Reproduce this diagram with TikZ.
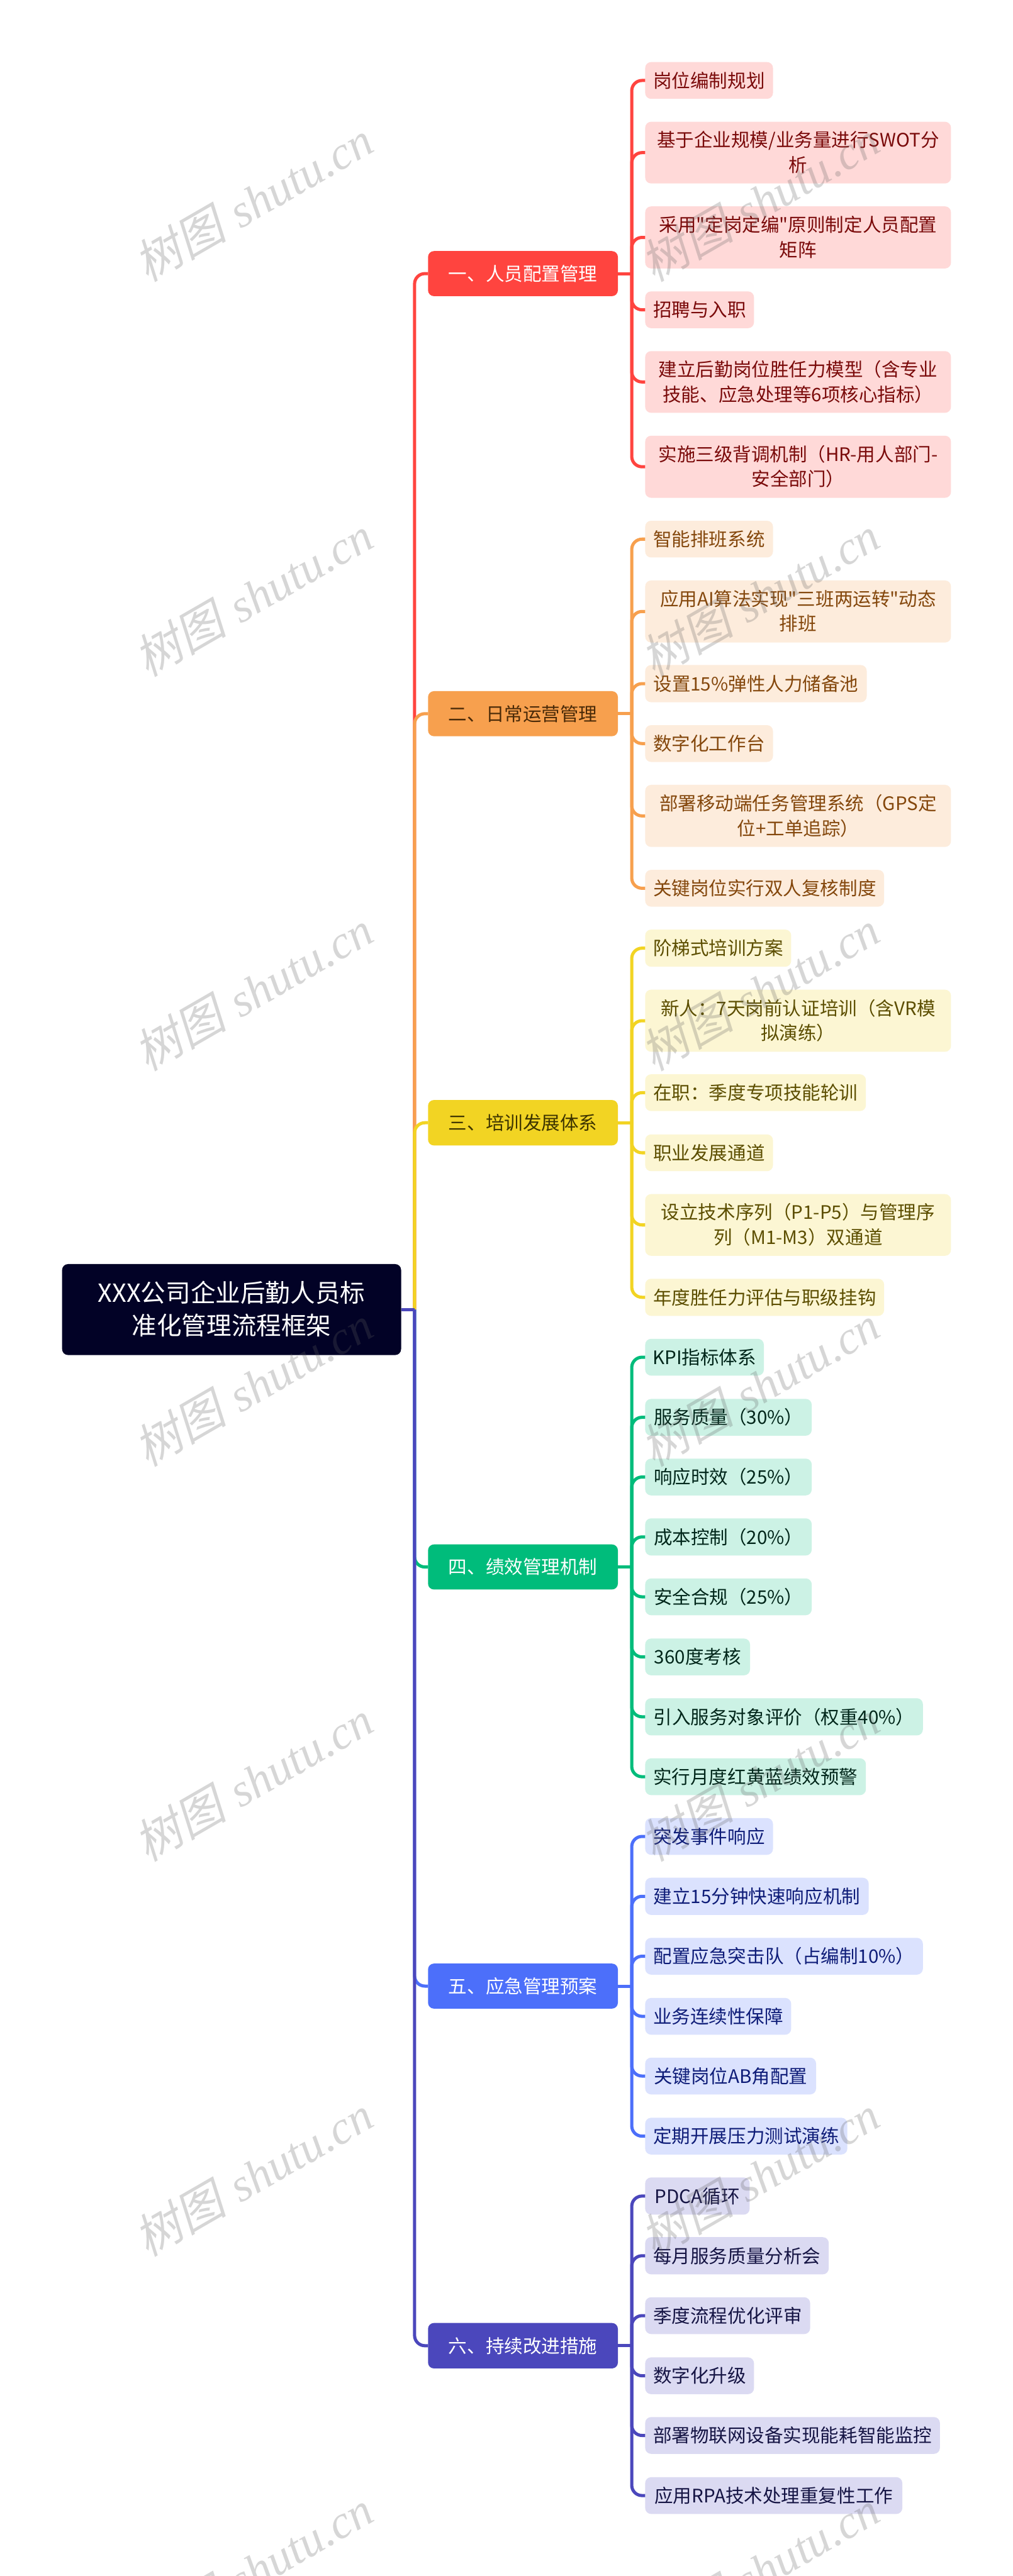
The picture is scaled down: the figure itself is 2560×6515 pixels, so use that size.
\documentclass[tikz,border=0pt]{standalone}
\usepackage{fontspec}
\newfontfamily\cjkmain{Noto Sans CJK SC}
\newfontfamily\wmcjk[FakeSlant=0.22]{Noto Sans CJK SC}
\newfontfamily\wmlat{Liberation Serif}[ItalicFont=* Italic]
\usetikzlibrary{calc}
\definecolor{rootc}{HTML}{020226}
\definecolor{redM}{HTML}{FF443F}\definecolor{redL}{HTML}{FFD9D8}\definecolor{redT}{HTML}{7A0A0A}
\definecolor{orgM}{HTML}{F7A04E}\definecolor{orgL}{HTML}{FDECDC}\definecolor{orgT}{HTML}{84470C}\definecolor{orgH}{HTML}{4A2A08}
\definecolor{yelM}{HTML}{F2D423}\definecolor{yelL}{HTML}{FCF6D3}\definecolor{yelT}{HTML}{5C4E00}\definecolor{yelH}{HTML}{3D3400}
\definecolor{grnM}{HTML}{00BC7B}\definecolor{grnL}{HTML}{CCF2E5}\definecolor{grnT}{HTML}{00261A}
\definecolor{bluM}{HTML}{4C6FFA}\definecolor{bluL}{HTML}{DBE2FE}\definecolor{bluT}{HTML}{0E1C78}
\definecolor{indM}{HTML}{4B47BC}\definecolor{indL}{HTML}{DBDAF2}\definecolor{indT}{HTML}{151444}
\newcommand{\lstrut}{\vrule width 0pt height 0.88em depth 0.12em\relax}
\tikzset{
  x=1pt,y=-1pt,
  boxbase/.style={rectangle,rounded corners=15pt,inner sep=0pt,outer sep=0pt,align=center,
    execute at begin node=\lstrut, execute at end node=\lstrut},
  leafbox/.style={boxbase,font=\cjkmain\fontsize{47}{63}\selectfont},
  groupbox/.style={boxbase,font=\cjkmain\fontsize{47}{63}\selectfont},
  rootbox/.style={boxbase,fill=rootc,text=white,font=\cjkmain\fontsize{63}{83}\selectfont},
  conn/.style={line width=8pt,rounded corners=26pt},
  stub/.style={line width=8pt},
  wmark/.style={rotate=30,text=black!63,opacity=0.25,text opacity=0.25,inner sep=0pt,font=\fontsize{118}{118}\selectfont}
}
% \leaf{name}{spine}{x2}{y1}{y2}{colour prefix}{text}
\newcommand{\leaf}[7]{%
  \node[leafbox,fill=#6L,text=#6T,minimum width={#3-1631},minimum height={#5-#4}] (#1) at ({(1631+#3)/2},{(#4+#5)/2}) {#7};
  \draw[conn,draw=#6M] (#2) |- (#1.west);
}
% \grp{name}{spine}{y1}{y2}{colour prefix}{text colour}{text}
\newcommand{\grp}[7]{%
  \node[groupbox,fill=#5M,text=#6,minimum width=480,minimum height={#4-#3}] (#1) at (1322,{(#3+#4)/2}) {#7};
  \coordinate (#2) at ($(#1.east)+(35,0)$);
  \draw[conn,draw=#5M] (trunk) |- (#1.west);
  \draw[stub,draw=#5M] (#1.east) -- (#2);
}
\newcommand{\wm}[3]{\node[wmark] (#1) at (#2,#3) {{\wmcjk 树图} \wmlat\itshape shutu.cn};}
\begin{document}
\begin{tikzpicture}
\useasboundingbox (0,0) rectangle (2560,6515);
\fill[white] (0,0) rectangle (2560,6515);

\node[rootbox,minimum width=857,minimum height=230] (root) at (585.5,3312) {XXX公司企业后勤人员标\\准化管理流程框架};
\coordinate (trunk) at (1048,3312);

% groups: later ones paint over earlier ones on the shared trunk
\grp{g1}{s1}{635}{749}{red}{white}{一、人员配置管理}
\grp{g2}{s2}{1748}{1862}{org}{orgH}{二、日常运营管理}
\grp{g3}{s3}{2782}{2897}{yel}{yelH}{三、培训发展体系}
\grp{g4}{s4}{3906}{4020}{grn}{white}{四、绩效管理机制}
\grp{g5}{s5}{4966}{5080}{blu}{white}{五、应急管理预案}
\grp{g6}{s6}{5875}{5990}{ind}{white}{六、持续改进措施}
\draw[stub,draw=indM] (root.east) -- (trunk);

\leaf{a1}{s1}{1954}{157}{250}{red}{岗位编制规划}
\leaf{a2}{s1}{2404}{308}{464}{red}{基于企业规模/业务量进行SWOT分\\析}
\leaf{a3}{s1}{2404}{522}{679}{red}{采用"定岗定编"原则制定人员配置\\矩阵}
\leaf{a4}{s1}{1906}{737}{830}{red}{招聘与入职}
\leaf{a5}{s1}{2404}{888}{1044}{red}{建立后勤岗位胜任力模型（含专业\\技能、应急处理等6项核心指标）}
\leaf{a6}{s1}{2404}{1102}{1259}{red}{实施三级背调机制（HR-用人部门-\\安全部门）}

\leaf{b1}{s2}{1954}{1317}{1410}{org}{智能排班系统}
\leaf{b2}{s2}{2404}{1468}{1625}{org}{应用AI算法实现"三班两运转"动态\\排班}
\leaf{b3}{s2}{2191}{1682}{1776}{org}{设置15\%弹性人力储备池}
\leaf{b4}{s2}{1954}{1834}{1927}{org}{数字化工作台}
\leaf{b5}{s2}{2404}{1985}{2142}{org}{部署移动端任务管理系统（GPS定\\位+工单追踪）}
\leaf{b6}{s2}{2235}{2200}{2293}{org}{关键岗位实行双人复核制度}

\leaf{c1}{s3}{2000}{2351}{2445}{yel}{阶梯式培训方案}
\leaf{c2}{s3}{2404}{2503}{2660}{yel}{新人：7天岗前认证培训（含VR模\\拟演练）}
\leaf{c3}{s3}{2189}{2717}{2810}{yel}{在职：季度专项技能轮训}
\leaf{c4}{s3}{1954}{2869}{2962}{yel}{职业发展通道}
\leaf{c5}{s3}{2404}{3020}{3176}{yel}{设立技术序列（P1-P5）与管理序\\列（M1-M3）双通道}
\leaf{c6}{s3}{2235}{3234}{3328}{yel}{年度胜任力评估与职级挂钩}

\leaf{d1}{s4}{1931}{3386}{3479}{grn}{KPI指标体系}
\leaf{d2}{s4}{2052}{3538}{3631}{grn}{服务质量（30\%）}
\leaf{d3}{s4}{2052}{3689}{3782}{grn}{响应时效（25\%）}
\leaf{d4}{s4}{2052}{3840}{3934}{grn}{成本控制（20\%）}
\leaf{d5}{s4}{2052}{3992}{4085}{grn}{安全合规（25\%）}
\leaf{d6}{s4}{1896}{4144}{4237}{grn}{360度考核}
\leaf{d7}{s4}{2333}{4295}{4389}{grn}{引入服务对象评价（权重40\%）}
\leaf{d8}{s4}{2189}{4447}{4540}{grn}{实行月度红黄蓝绩效预警}

\leaf{e1}{s5}{1954}{4598}{4691}{blu}{突发事件响应}
\leaf{e2}{s5}{2196}{4749}{4843}{blu}{建立15分钟快速响应机制}
\leaf{e3}{s5}{2333}{4901}{4994}{blu}{配置应急突击队（占编制10\%）}
\leaf{e4}{s5}{2000}{5053}{5146}{blu}{业务连续性保障}
\leaf{e5}{s5}{2063}{5204}{5297}{blu}{关键岗位AB角配置}
\leaf{e6}{s5}{2142}{5356}{5449}{blu}{定期开展压力测试演练}

\leaf{f1}{s6}{1895}{5507}{5601}{ind}{PDCA循环}
\leaf{f2}{s6}{2095}{5658}{5752}{ind}{每月服务质量分析会}
\leaf{f3}{s6}{2048}{5810}{5903}{ind}{季度流程优化评审}
\leaf{f4}{s6}{1906}{5962}{6055}{ind}{数字化升级}
\leaf{f5}{s6}{2376}{6113}{6206}{ind}{部署物联网设备实现能耗智能监控}
\leaf{f6}{s6}{2281}{6265}{6358}{ind}{应用RPA技术处理重复性工作}

% watermark tiles
\begin{scope}
\clip (0,0) rectangle (2560,6515);
\wm{wl0}{640}{509}\wm{wl1}{640}{1508}\wm{wl2}{640}{2506}\wm{wl3}{640}{3505}\wm{wl4}{640}{4504}\wm{wl5}{640}{5503}\wm{wl6}{640}{6501}
\wm{wr0}{1921}{509}\wm{wr1}{1921}{1508}\wm{wr2}{1921}{2506}\wm{wr3}{1921}{3505}\wm{wr4}{1921}{4504}\wm{wr5}{1921}{5503}\wm{wr6}{1921}{6501}
\end{scope}
\end{tikzpicture}
\end{document}
